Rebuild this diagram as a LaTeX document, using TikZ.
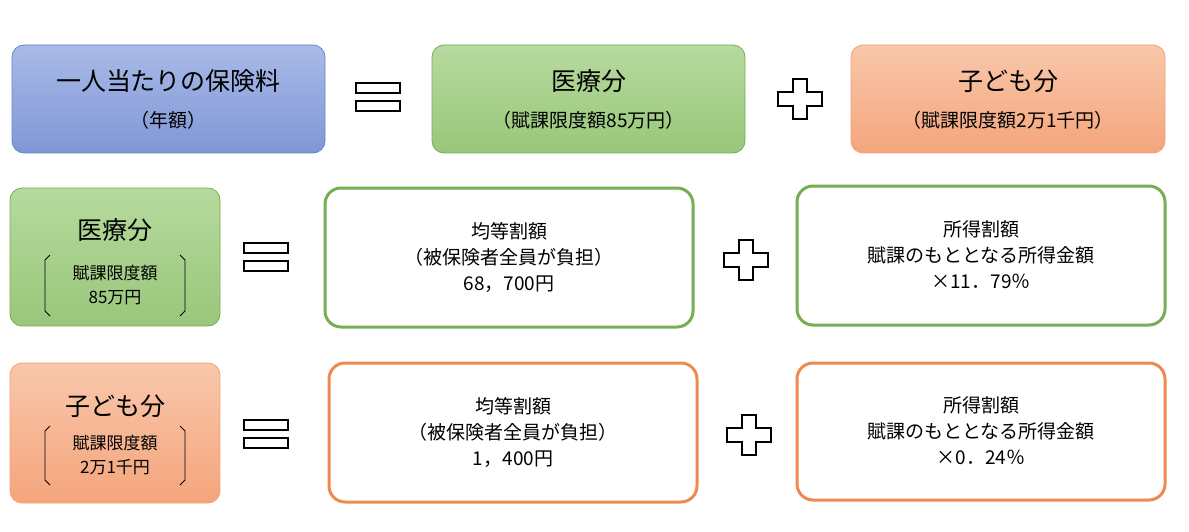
\documentclass[tikz,border=0pt]{standalone}
\usepackage{fontspec}
\setmainfont{Noto Sans CJK JP}
\definecolor{bluetop}{HTML}{A9BAE8}\definecolor{bluebot}{HTML}{7F97D6}\definecolor{blueline}{HTML}{6A84C8}
\definecolor{greentop}{HTML}{B7DA9E}\definecolor{greenbot}{HTML}{98C77A}\definecolor{greenline}{HTML}{76AE52}
\definecolor{oratop}{HTML}{F9C7AB}\definecolor{orabot}{HTML}{F4A57C}\definecolor{oraline}{HTML}{EE8A50}
\tikzset{
 fbox/.style={rounded corners=12pt,line width=0.8pt},
 bluebox/.style={fbox,draw=blueline,top color=bluetop,bottom color=bluebot},
 greenbox/.style={fbox,draw=greenline,top color=greentop,bottom color=greenbot},
 orabox/.style={fbox,draw=oraline!80,top color=oratop,bottom color=orabot},
 wbox/.style={rounded corners=16pt,line width=3pt,fill=white},
 big/.style={font=\fontsize{25}{28}\selectfont},
 mid/.style={font=\fontsize{19}{26}\selectfont,align=center},
 sm/.style={font=\fontsize{17}{24}\selectfont,align=center},
 sym/.style={draw=black,line width=1.2pt,fill=white},
}
\newcommand{\eqsym}[3]{% center x, center y
 \draw[sym] (#1-22,#2-14) rectangle (#1+22,#2-4);
 \draw[sym] (#1-22,#2+4) rectangle (#1+22,#2+14);
 \coordinate (#3) at (#1,#2);}
\newcommand{\plussym}[3]{%
 \draw[sym] (#1-7,#2-20) -- (#1+7,#2-20) -- (#1+7,#2-7) -- (#1+22,#2-7) -- (#1+22,#2+7) -- (#1+7,#2+7) -- (#1+7,#2+20) -- (#1-7,#2+20) -- (#1-7,#2+7) -- (#1-22,#2+7) -- (#1-22,#2-7) -- (#1-7,#2-7) -- cycle;
 \coordinate (#3) at (#1,#2);}
\newcommand{\brk}[4]{% x1 x2 y1 y2
 \draw[line width=0.8pt] (#1+5,#3) -- (#1,#3+5) -- (#1,#4-5) -- (#1+5,#4);
 \draw[line width=0.8pt] (#2-5,#3) -- (#2,#3+5) -- (#2,#4-5) -- (#2-5,#4);}
\begin{document}
\begin{tikzpicture}[x=1pt,y=-1pt]
\useasboundingbox (0,0) rectangle (1189,532);
% row 1
\draw[bluebox] (12,45) rectangle (325,153);
\node[big] (a1) at (168.5,81) {一人当たりの保険料};
\node[mid] (a2) at (168.5,120) {（年額）};
\eqsym{378}{97}{e1}
\draw[greenbox] (432,45) rectangle (745,153);
\node[big] (b1) at (588.5,81) {医療分};
\node[mid] (b2) at (588.5,120) {（賦課限度額85万円）};
\plussym{800}{99}{p1}
\draw[orabox] (851,45) rectangle (1165,153);
\node[big] (c1) at (1008,81) {子ども分};
\node[mid] (c2) at (1008,120) {（賦課限度額2万1千円）};
% row 2
\draw[greenbox] (10,188) rectangle (220,326);
\node[big] (d1) at (115,230) {医療分};
\node[sm] (d2) at (115,285) {賦課限度額\\85万円};
\brk{45}{185}{255}{316}
\eqsym{266}{257}{e2}
\draw[wbox,draw=greenline] (325,188) rectangle (693,327);
\node[mid] (f1) at (509,257) {均等割額\\（被保険者全員が負担）\\68，700円};
\plussym{746}{260}{p2}
\draw[wbox,draw=greenline] (797,186) rectangle (1165,325);
\node[mid] (g1) at (981,255) {所得割額\\賦課のもととなる所得金額\\×11．79％};
% row 3
\draw[orabox] (10,363) rectangle (220,503);
\node[big] (h1) at (115,406) {子ども分};
\node[sm] (h2) at (115,455) {賦課限度額\\2万1千円};
\brk{45}{185}{426}{485}
\eqsym{266}{434}{e3}
\draw[wbox,draw=oraline] (329,363) rectangle (697,502);
\node[mid] (i1) at (513,432) {均等割額\\（被保険者全員が負担）\\1，400円};
\plussym{749}{435}{p3}
\draw[wbox,draw=oraline] (797,363) rectangle (1165,500);
\node[mid] (j1) at (981,431) {所得割額\\賦課のもととなる所得金額\\×0．24％};
\end{tikzpicture}
\end{document}
